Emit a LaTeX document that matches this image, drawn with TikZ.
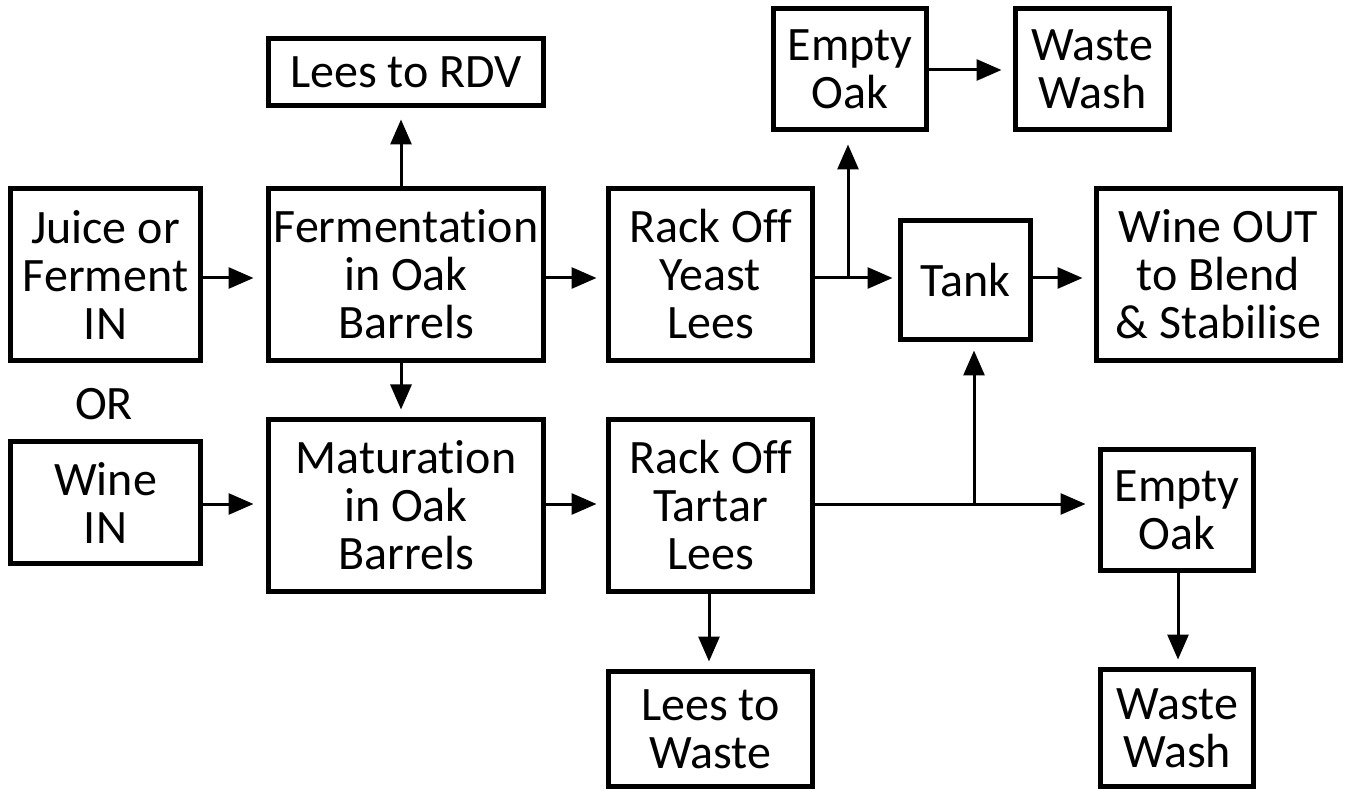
\documentclass[tikz,border=0pt]{standalone}
\usepackage{fontspec}
\setmainfont{Carlito}[Ligatures=CommonOff]
\usetikzlibrary{arrows.meta}
\begin{document}
\begin{tikzpicture}[x=1pt,y=-1pt,
  box/.style={draw, line width=5pt, inner sep=0pt, align=center,
    font=\fontsize{48}{48}\selectfont},
  plain/.style={inner sep=0pt, font=\fontsize{48}{48}\selectfont},
  arr/.style={line width=3pt, -{Triangle[length=25pt,width=21pt]}},
  ln/.style={line width=3pt}]
\useasboundingbox (0,0) rectangle (1349,791);
% rows / columns
\coordinate (rowT) at (0,70);
\coordinate (rowA) at (0,278);
\coordinate (rowB) at (0,504);
\coordinate (colF) at (401,0);
\coordinate (colL) at (709,0);
\coordinate (colE) at (1178,0);
\coordinate (j1) at (848,278);
\coordinate (j2) at (974,504);
% boxes
\node[box, minimum width=190pt, minimum height=172pt] (juice) at (105.5,274.5) {Juice or\\Ferment\\IN};
\node[plain] (or) at (104,404) {OR};
\node[box, minimum width=190pt, minimum height=122pt] (wine) at (105.5,502.5) {Wine\\IN};
\node[box, minimum width=275pt, minimum height=67pt] (rdv) at (406,72) {Lees to RDV};
\node[box, minimum width=275pt, minimum height=172pt] (ferm) at (406,274.5) {Fermentation\\in Oak\\Barrels};
\node[box, minimum width=275pt, minimum height=172pt] (mat) at (406,505.5) {Maturation\\in Oak\\Barrels};
\node[box, minimum width=204pt, minimum height=172pt] (yeast) at (710.5,274.5) {Rack Off\\Yeast\\Lees};
\node[box, minimum width=204pt, minimum height=172pt] (tartar) at (710.5,505.5) {Rack Off\\Tartar\\Lees};
\node[box, minimum width=204pt, minimum height=115pt] (leeswaste) at (710.5,729) {Lees to\\Waste};
\node[box, minimum width=153pt, minimum height=121pt] (emptytop) at (850,69) {Empty\\Oak};
\node[box, minimum width=154pt, minimum height=121pt] (washtop) at (1092.5,69) {Waste\\Wash};
\node[box, minimum width=130pt, minimum height=119pt] (tank) at (965.5,280) {Tank};
\node[box, minimum width=244pt, minimum height=172pt] (wineout) at (1218.5,274.5) {Wine OUT\\to Blend\\\& Stabilise};
\node[box, minimum width=153pt, minimum height=121pt] (emptybot) at (1177,510) {Empty\\Oak};
\node[box, minimum width=153pt, minimum height=117pt] (washbot) at (1177,728) {Waste\\Wash};
% connectors
\draw[arr, shorten >=12.5pt] (juice.east |- rowA) -- (ferm.west |- rowA);
\draw[arr, shorten >=12.5pt] (wine.east |- rowB) -- (mat.west |- rowB);
\draw[arr, shorten >=11.5pt] (colF |- ferm.north) -- (colF |- rdv.south);
\draw[arr, shorten >=7.5pt] (colF |- ferm.south) -- (colF |- mat.north);
\draw[arr, shorten >=9.5pt] (ferm.east |- rowA) -- (yeast.west |- rowA);
\draw[arr, shorten >=9.5pt] (mat.east |- rowB) -- (tartar.west |- rowB);
\draw[arr, shorten >=5.5pt] (yeast.east |- rowA) -- (tank.west |- rowA);
\draw[arr, shorten >=12.5pt] (j1) -- (j1 |- emptytop.south);
\draw[arr, shorten >=11.5pt] (emptytop.east |- rowT) -- (washtop.west |- rowT);
\draw[arr, shorten >=11.5pt] (tank.east |- rowA) -- (wineout.west |- rowA);
\draw[arr, shorten >=12.5pt] (tartar.east |- rowB) -- (emptybot.west |- rowB);
\draw[arr, shorten >=8.5pt] (j2) -- (j2 |- tank.south);
\draw[arr, shorten >=7.5pt] (colL |- tartar.south) -- (colL |- leeswaste.north);
\draw[arr, shorten >=7.5pt] (colE |- emptybot.south) -- (colE |- washbot.north);
\end{tikzpicture}
\end{document}
